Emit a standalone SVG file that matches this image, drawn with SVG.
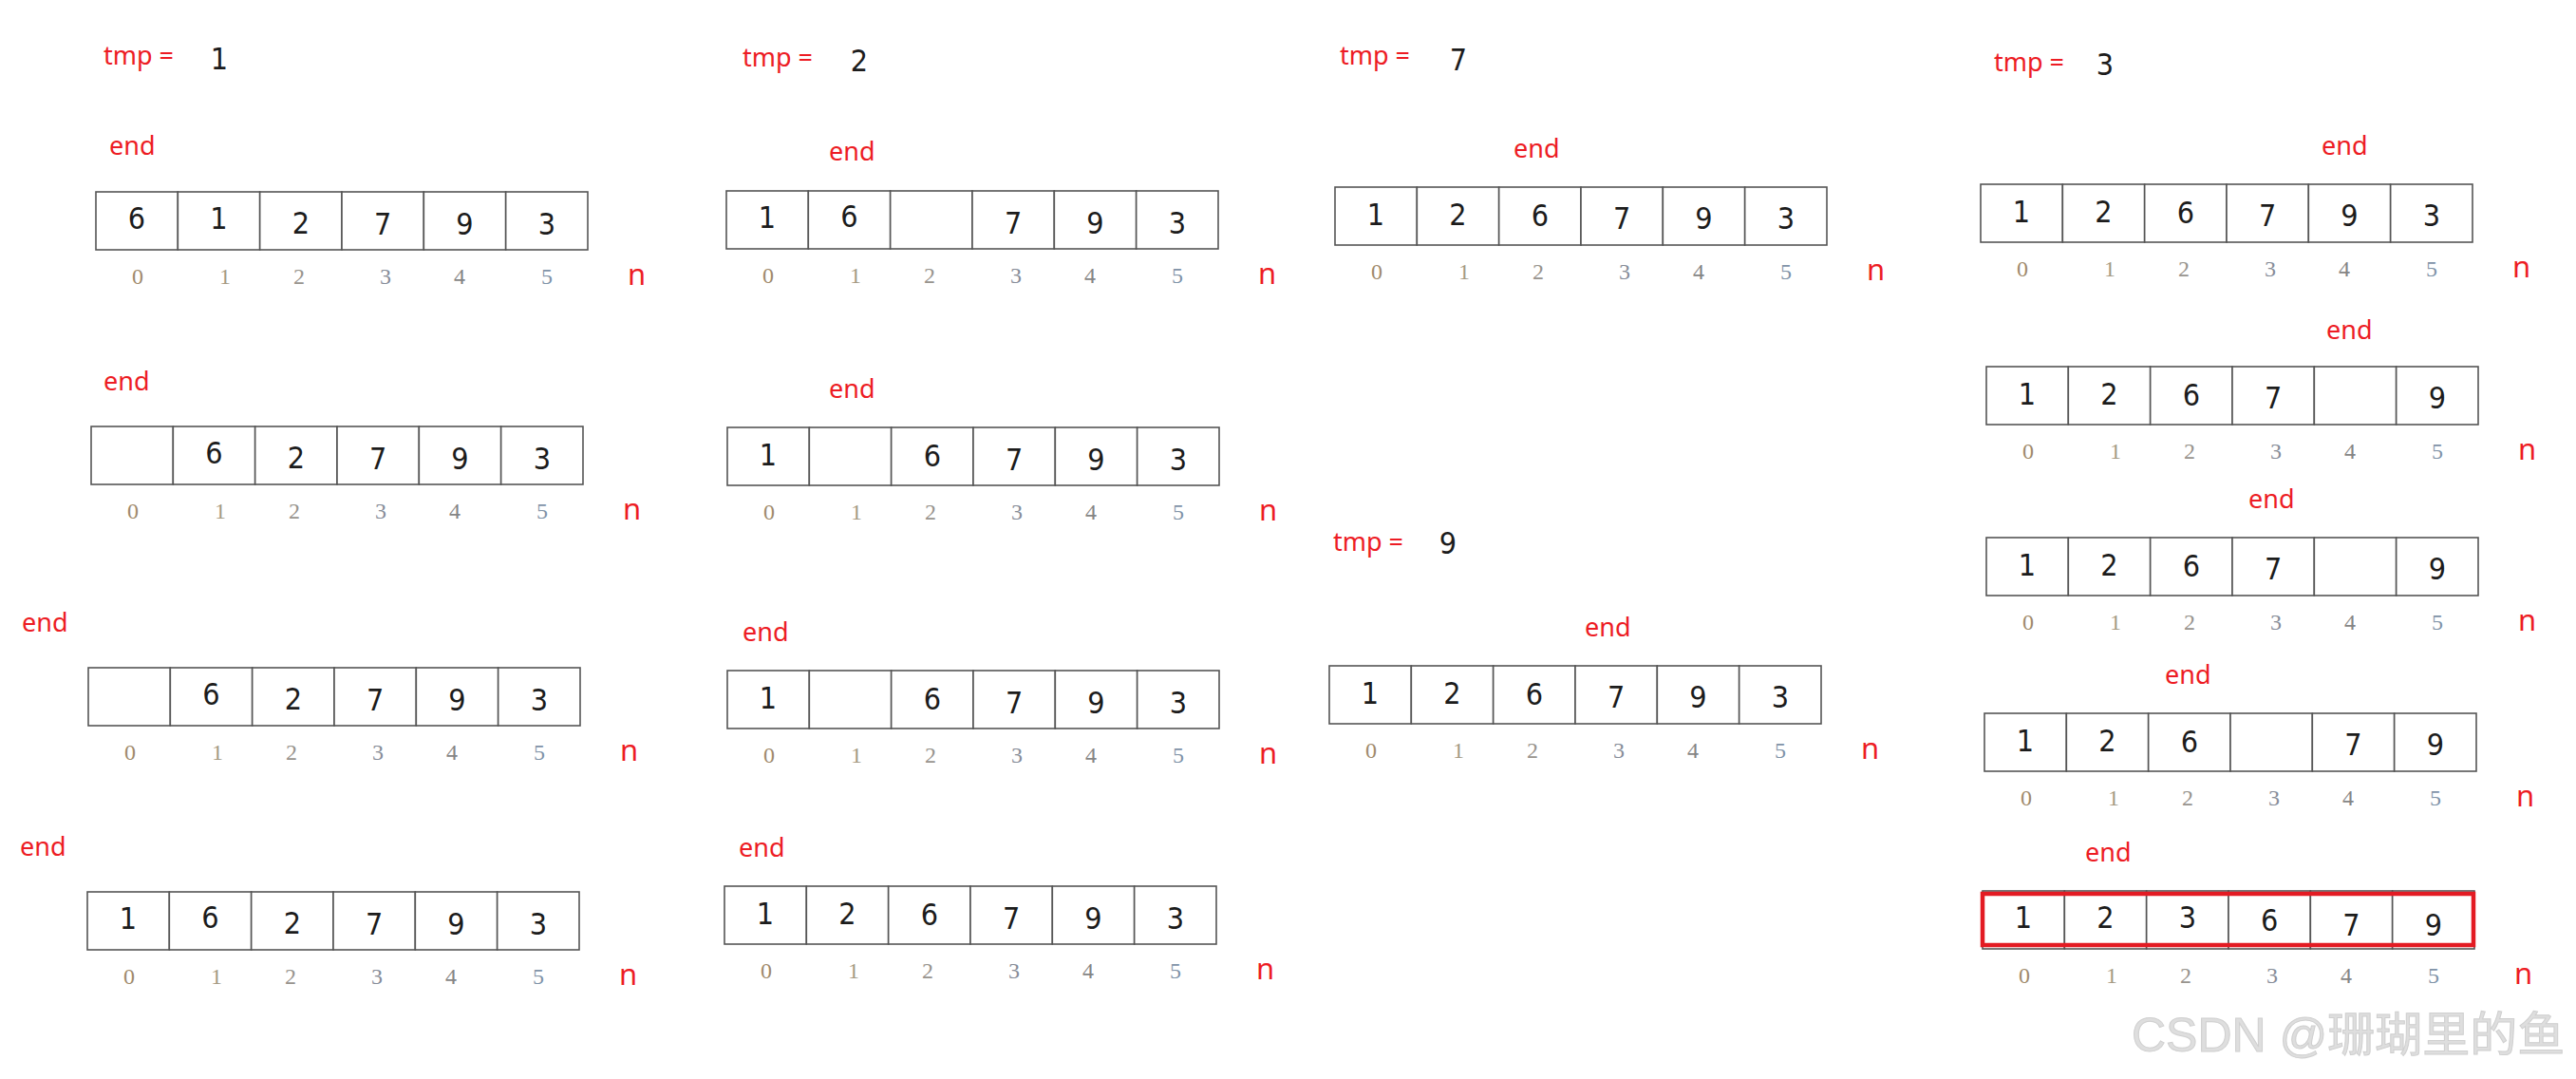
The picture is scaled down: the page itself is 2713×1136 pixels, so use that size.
<svg xmlns="http://www.w3.org/2000/svg" xmlns:xlink="http://www.w3.org/1999/xlink" width="2713" height="1136" viewBox="0 0 2713 1136">
<style>
.cell{fill:#ffffff;stroke:#555555;stroke-width:1.6}
.d{font-family:"DejaVu Sans","Liberation Sans",sans-serif;font-stretch:condensed;font-size:32px;fill:#1c1c1c;text-anchor:middle}
.tv{font-family:"DejaVu Sans","Liberation Sans",sans-serif;font-stretch:condensed;font-size:32px;fill:#1c1c1c;text-anchor:middle}
.i{font-family:"Liberation Serif","DejaVu Serif",serif;font-size:24px;text-anchor:middle}
.r{font-family:"Noto Sans","Open Sans",sans-serif;font-size:27px;fill:#ed1c24}
.n{font-family:"Noto Sans","Open Sans",sans-serif;font-size:31px;fill:#ed1c24}
.wm{font-family:"Liberation Sans","Noto Sans CJK SC",sans-serif;font-size:50px;fill:#dedede;stroke:#cfcfcf;stroke-width:1}
</style>
<defs>
<g id="cells">
<rect class="cell" x="0" y="0" width="86.33" height="61"/>
<rect class="cell" x="86.33" y="0" width="86.33" height="61"/>
<rect class="cell" x="172.67" y="0" width="86.33" height="61"/>
<rect class="cell" x="259" y="0" width="86.33" height="61"/>
<rect class="cell" x="345.33" y="0" width="86.33" height="61"/>
<rect class="cell" x="431.67" y="0" width="86.33" height="61"/>
</g>
<g id="idx">
<text class="i" x="44" y="97" fill="#a08a6c">0</text>
<text class="i" x="136" y="97" fill="#a59a84">1</text>
<text class="i" x="214" y="97" fill="#98948e">2</text>
<text class="i" x="305" y="97" fill="#868c98">3</text>
<text class="i" x="383" y="97" fill="#858585">4</text>
<text class="i" x="475" y="97" fill="#7f93a8">5</text>
<text class="n" x="560" y="98">n</text>
</g>
</defs>
<rect width="2713" height="1136" fill="#ffffff"/>

<g id="tmp1"><text class="r" x="109" y="68">tmp =</text><text class="tv" x="231" y="73">1</text></g>
<g id="tmp2"><text class="r" x="782" y="70">tmp =</text><text class="tv" x="905" y="75">2</text></g>
<g id="tmp7"><text class="r" x="1411" y="68">tmp =</text><text class="tv" x="1536" y="74">7</text></g>
<g id="tmp9"><text class="r" x="1404" y="580">tmp =</text><text class="tv" x="1525" y="583">9</text></g>
<g id="tmp3"><text class="r" x="2100" y="75">tmp =</text><text class="tv" x="2217" y="79">3</text></g>

<g id="A1" transform="translate(101,202)">
<use xlink:href="#cells"/><use xlink:href="#idx"/>
<text class="r" x="14" y="-39">end</text>
<text class="d" x="43" y="39">6</text><text class="d" x="129.5" y="39">1</text><text class="d" x="215.8" y="44">2</text><text class="d" x="302.2" y="45">7</text><text class="d" x="388.5" y="45">9</text><text class="d" x="474.8" y="45">3</text>
</g>
<g id="A2" transform="translate(96,449)">
<use xlink:href="#cells"/><use xlink:href="#idx"/>
<text class="r" x="13" y="-38">end</text>
<text class="d" x="129.5" y="39">6</text><text class="d" x="215.8" y="44">2</text><text class="d" x="302.2" y="45">7</text><text class="d" x="388.5" y="45">9</text><text class="d" x="474.8" y="45">3</text>
</g>
<g id="A3" transform="translate(93,703)">
<use xlink:href="#cells"/><use xlink:href="#idx"/>
<text class="r" x="-70" y="-38">end</text>
<text class="d" x="129.5" y="39">6</text><text class="d" x="215.8" y="44">2</text><text class="d" x="302.2" y="45">7</text><text class="d" x="388.5" y="45">9</text><text class="d" x="474.8" y="45">3</text>
</g>
<g id="A4" transform="translate(92,939)">
<use xlink:href="#cells"/><use xlink:href="#idx"/>
<text class="r" x="-71" y="-38">end</text>
<text class="d" x="43" y="39">1</text><text class="d" x="129.5" y="38">6</text><text class="d" x="215.8" y="44">2</text><text class="d" x="302.2" y="45">7</text><text class="d" x="388.5" y="45">9</text><text class="d" x="474.8" y="45">3</text>
</g>

<g id="B1" transform="translate(765,201)">
<use xlink:href="#cells"/><use xlink:href="#idx"/>
<text class="r" x="108" y="-32">end</text>
<text class="d" x="43" y="39">1</text><text class="d" x="129.5" y="38">6</text><text class="d" x="302.2" y="45">7</text><text class="d" x="388.5" y="45">9</text><text class="d" x="474.8" y="45">3</text>
</g>
<g id="B2" transform="translate(766,450)">
<use xlink:href="#cells"/><use xlink:href="#idx"/>
<text class="r" x="107" y="-31">end</text>
<text class="d" x="43" y="40">1</text><text class="d" x="215.8" y="41">6</text><text class="d" x="302.2" y="45">7</text><text class="d" x="388.5" y="45">9</text><text class="d" x="474.8" y="45">3</text>
</g>
<g id="B3" transform="translate(766,706)">
<use xlink:href="#cells"/><use xlink:href="#idx"/>
<text class="r" x="16" y="-31">end</text>
<text class="d" x="43" y="40">1</text><text class="d" x="215.8" y="41">6</text><text class="d" x="302.2" y="45">7</text><text class="d" x="388.5" y="45">9</text><text class="d" x="474.8" y="45">3</text>
</g>
<g id="B4" transform="translate(763,933)">
<use xlink:href="#cells"/><use xlink:href="#idx"/>
<text class="r" x="15" y="-31">end</text>
<text class="d" x="43" y="40">1</text><text class="d" x="129.5" y="40">2</text><text class="d" x="215.8" y="41">6</text><text class="d" x="302.2" y="45">7</text><text class="d" x="388.5" y="45">9</text><text class="d" x="474.8" y="45">3</text>
</g>

<g id="C1" transform="translate(1406,197)">
<use xlink:href="#cells"/><use xlink:href="#idx"/>
<text class="r" x="188" y="-31">end</text>
<text class="d" x="43" y="40">1</text><text class="d" x="129.5" y="40">2</text><text class="d" x="215.8" y="41">6</text><text class="d" x="302.2" y="44">7</text><text class="d" x="388.5" y="44">9</text><text class="d" x="474.8" y="44">3</text>
</g>
<g id="C2" transform="translate(1400,701)">
<use xlink:href="#cells"/><use xlink:href="#idx"/>
<text class="r" x="269" y="-31">end</text>
<text class="d" x="43" y="40">1</text><text class="d" x="129.5" y="40">2</text><text class="d" x="215.8" y="41">6</text><text class="d" x="302.2" y="44">7</text><text class="d" x="388.5" y="44">9</text><text class="d" x="474.8" y="44">3</text>
</g>

<g id="D1" transform="translate(2086,194)">
<use xlink:href="#cells"/><use xlink:href="#idx"/>
<text class="r" x="359" y="-31">end</text>
<text class="d" x="43" y="40">1</text><text class="d" x="129.5" y="40">2</text><text class="d" x="215.8" y="41">6</text><text class="d" x="302.2" y="44">7</text><text class="d" x="388.5" y="44">9</text><text class="d" x="474.8" y="44">3</text>
</g>
<g id="D2" transform="translate(2092,386)">
<use xlink:href="#cells"/><use xlink:href="#idx"/>
<text class="r" x="358" y="-29">end</text>
<text class="d" x="43" y="40">1</text><text class="d" x="129.5" y="40">2</text><text class="d" x="215.8" y="41">6</text><text class="d" x="302.2" y="44">7</text><text class="d" x="474.8" y="44">9</text>
</g>
<g id="D3" transform="translate(2092,566)">
<use xlink:href="#cells"/><use xlink:href="#idx"/>
<text class="r" x="276" y="-31">end</text>
<text class="d" x="43" y="40">1</text><text class="d" x="129.5" y="40">2</text><text class="d" x="215.8" y="41">6</text><text class="d" x="302.2" y="44">7</text><text class="d" x="474.8" y="44">9</text>
</g>
<g id="D4" transform="translate(2090,751)">
<use xlink:href="#cells"/><use xlink:href="#idx"/>
<text class="r" x="190" y="-31">end</text>
<text class="d" x="43" y="40">1</text><text class="d" x="129.5" y="40">2</text><text class="d" x="215.8" y="41">6</text><text class="d" x="388.5" y="44">7</text><text class="d" x="474.8" y="44">9</text>
</g>
<g id="D5" transform="translate(2088,938)">
<use xlink:href="#cells"/><use xlink:href="#idx"/>
<text class="r" x="108" y="-31">end</text>
<text class="d" x="43" y="39">1</text><text class="d" x="129.5" y="39">2</text><text class="d" x="215.8" y="39">3</text><text class="d" x="302.2" y="42">6</text><text class="d" x="388.5" y="47">7</text><text class="d" x="474.8" y="47">9</text>
<rect x="0" y="3" width="517" height="54" fill="none" stroke="#e31b23" stroke-width="4.5"/>
</g>

<g id="watermark"><text class="wm" x="2245" y="1107">CSDN @珊瑚里的鱼</text></g>
</svg>
